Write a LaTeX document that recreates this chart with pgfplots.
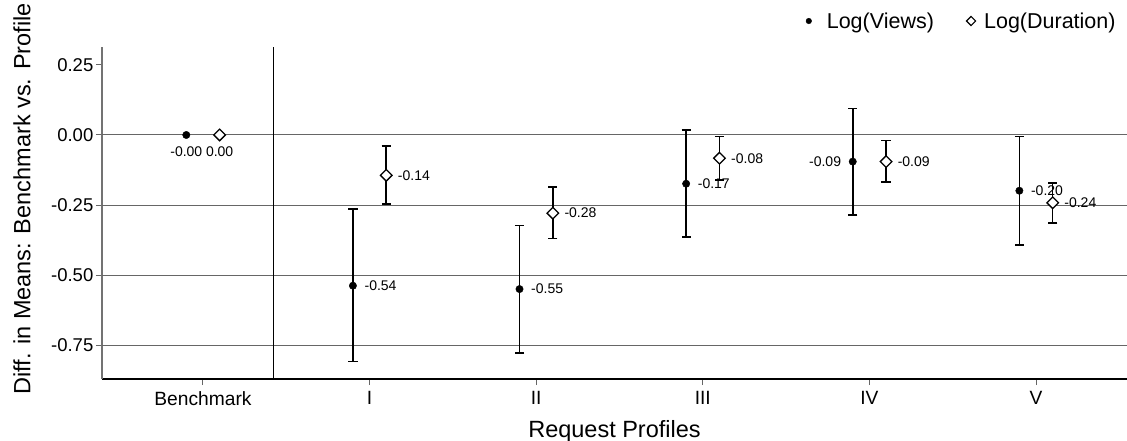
\documentclass[border=0pt]{standalone}
\usepackage{fontspec}
\setmainfont{Liberation Sans}
\usepackage{pgfplots}
\pgfplotsset{compat=1.18}
\begin{document}
\begin{tikzpicture}
\useasboundingbox (-102pt,-61pt) rectangle (1025pt,379pt);
\begin{axis}[
  at={(0pt,0pt)}, anchor=south west,
  scale only axis, width=1025pt, height=332pt,
  xmin=-0.606, xmax=5.546, ymin=-0.871, ymax=0.314,
  axis x line*=bottom, axis y line*=left,
  x axis line style={black, line width=1.1pt, -},
  y axis line style={black!55, line width=1.2pt, -},
  xtick={0,1,2,3,4,5}, xticklabels={Benchmark,I,II,III,IV,V},
  ytick={-0.75,-0.5,-0.25,0,0.25}, yticklabels={-0.75,-0.50,-0.25,0.00,0.25},
  tick align=outside, major tick length=6pt,
  tick style={black!60, line width=1pt},
  tick label style={font=\fontsize{18.5}{21}\selectfont},
  xticklabel style={inner sep=0pt, yshift=-6.5pt, font=\fontsize{19.2}{21}\selectfont},
  yticklabel style={inner sep=0pt, xshift=-2.5pt},
  extra y ticks={-0.75,-0.5,-0.25,0},
  extra y tick labels={},
  extra y tick style={ymajorgrids=true, major tick length=0pt, major grid style={black!60, line width=1pt}},
  clip=false,
  legend style={at={(rel axis cs:0.991,1.0783)}, anchor=east, draw=none, fill=none,
    legend columns=2, font=\fontsize{21.5}{25}\selectfont, inner sep=0pt,
    /tikz/every even column/.append style={column sep=30pt}},
  legend cell align=left,
]
% Log(Views) with CIs
\addplot[only marks, mark=*, mark size=3.7pt, black,
  legend image code/.code={\fill[black] (0pt,0pt) circle (2.8pt); \path[draw=none, fill=none] (-3pt,-1pt) rectangle (16pt,1pt);},
  error bars/.cd, y dir=both, y explicit,
  error bar style={line width=1.5pt, black},
  error mark options={rotate=90, mark size=4.6pt, line width=1.5pt, black},
  ] table[x=x, y=y, y error plus=ep, y error minus=em, row sep=\\] {
x y ep em \\
0.9 -0.538 0.273 0.270 \\
1.9 -0.550 0.227 0.229 \\
2.9 -0.174 0.192 0.190 \\
3.9 -0.095 0.189 0.191 \\
4.9 -0.199 0.193 0.194 \\
};
\addlegendentry{Log(Views)}
% Log(Duration) with CIs
\addplot[only marks, mark=square*, mark size=4.1pt, black,
  mark options={rotate=45, fill=white, line width=1.3pt},
  legend image code/.code={\draw[black, line width=1.1pt, fill=white] (0pt,4.6pt) -- (4.6pt,0pt) -- (0pt,-4.6pt) -- (-4.6pt,0pt) -- cycle; \path[draw=none, fill=none] (-5pt,-1pt) rectangle (11pt,1pt);},
  error bars/.cd, y dir=both, y explicit,
  error bar style={line width=1.5pt, black},
  error mark options={rotate=90, mark size=4.6pt, line width=1.5pt, black},
  ] table[x=x, y=y, y error plus=ep, y error minus=em, row sep=\\] {
x y ep em \\
1.1 -0.144 0.104 0.102 \\
2.1 -0.279 0.093 0.090 \\
3.1 -0.083 0.077 0.078 \\
4.1 -0.095 0.076 0.073 \\
5.1 -0.242 0.071 0.072 \\
};
\addlegendentry{Log(Duration)}
% Benchmark points
\addplot[only marks, mark=*, mark size=3.7pt, black, forget plot] table[row sep=\\] {
x y \\ -0.1 0 \\
};
\addplot[only marks, mark=square*, mark size=4.1pt, black, forget plot,
  mark options={rotate=45, fill=white, line width=1.3pt}] table[row sep=\\] {
x y \\ 0.1 0 \\
};
% value labels, right of the point
\addplot[draw=none, mark=none, forget plot, nodes near coords, point meta=explicit symbolic,
  nodes near coords style={anchor=west, inner sep=0pt, xshift=11.5pt, text=black,
  font=\fontsize{14}{16}\selectfont}] table[x=x, y=y, meta=lab, row sep=\\] {
x y lab \\
0.9 -0.538 -0.54 \\
1.9 -0.550 -0.55 \\
2.9 -0.174 -0.17 \\
4.9 -0.199 -0.20 \\
1.1 -0.144 -0.14 \\
2.1 -0.279 -0.28 \\
3.1 -0.083 -0.08 \\
4.1 -0.095 -0.09 \\
5.1 -0.242 -0.24 \\
};
% value label, left of the point
\addplot[draw=none, mark=none, forget plot, nodes near coords, point meta=explicit symbolic,
  nodes near coords style={anchor=east, inner sep=0pt, xshift=-11.5pt, text=black,
  font=\fontsize{14}{16}\selectfont}] table[x=x, y=y, meta=lab, row sep=\\] {
x y lab \\
3.9 -0.095 -0.09 \\
};
% benchmark labels below
\addplot[draw=none, mark=none, forget plot, nodes near coords, point meta=explicit symbolic,
  nodes near coords style={anchor=center, inner sep=0pt, yshift=-17pt, text=black,
  font=\fontsize{14}{16}\selectfont}] table[x=x, y=y, meta=lab, row sep=\\] {
x y lab \\
-0.1 0 -0.00 \\
0.1 0 0.00 \\
};
\draw[black, line width=1.1pt] (axis cs:0.426,-0.871) -- (axis cs:0.426,0.314);
\end{axis}
\node[rotate=90, inner sep=0pt, font=\fontsize{23.5}{27}\selectfont] at (-80pt,180pt) {Diff. in Means: Benchmark vs. Profile};
\node[anchor=base, inner sep=0pt, font=\fontsize{23.5}{27}\selectfont] at (512.5pt,-58pt) {Request Profiles};
\end{tikzpicture}
\end{document}
